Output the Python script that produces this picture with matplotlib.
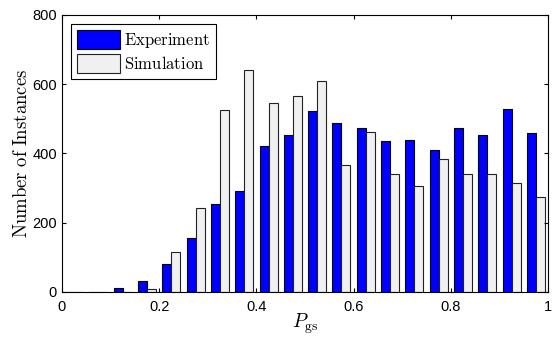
import matplotlib
matplotlib.use("Agg")
import matplotlib.pyplot as plt
import numpy as np

plt.rcParams["mathtext.fontset"] = "cm"
plt.rcParams["font.family"] = ["Liberation Sans", "DejaVu Sans"]

# histogram bins of P_gs (width 0.05)
bin_centres = np.arange(0.025, 1.0, 0.05)
experiment = [0, 0, 11, 32, 80, 155, 253, 292, 422, 454,
              522, 489, 474, 435, 438, 410, 473, 454, 529, 458]
simulation = [0, 0, 1, 9, 115, 243, 526, 640, 545, 565,
              608, 367, 463, 340, 307, 384, 341, 340, 315, 275]
x_ticks = [0, 0.2, 0.4, 0.6, 0.8, 1]
x_tick_labels = ["0", "0.2", "0.4", "0.6", "0.8", "1"]
y_ticks = [0, 200, 400, 600, 800]

fig = plt.figure(figsize=(5.52, 3.39), dpi=100)
ax = fig.add_axes([0.112, 0.139, 0.881, 0.817])

bar_w = 0.0185
ax.bar(bin_centres - bar_w / 2, experiment, width=bar_w, color="#0000ff",
       edgecolor="black", linewidth=0.8, label=r"$\mathrm{Experiment}$")
ax.bar(bin_centres + bar_w / 2, simulation, width=bar_w, color="#f0f0f0",
       edgecolor="#222222", linewidth=0.8, label=r"$\mathrm{Simulation}$")

ax.set_xlim(0, 1)
ax.set_ylim(0, 800)
ax.set_xticks(x_ticks)
ax.set_xticklabels(x_tick_labels)
ax.set_yticks(y_ticks)
ax.tick_params(direction="in", top=True, right=True, labelsize=10.5, length=3)
ax.tick_params(axis="x", pad=6)
for s in ax.spines.values():
    s.set_linewidth(0.8)

ax.set_xlabel(r"$P_{\rm gs}$", fontsize=14, labelpad=-2)
ax.set_ylabel(r"$\mathrm{Number\ of\ Instances}$", fontsize=13.5, labelpad=1)

leg = ax.legend(loc="upper left", fontsize=12, fancybox=False, framealpha=1,
                edgecolor="black", handlelength=2.6, handleheight=1.4,
                borderaxespad=0.55, handletextpad=0.25, labelspacing=0.25,
                borderpad=0.35)
leg.get_frame().set_linewidth(0.8)

fig.savefig("out.png", dpi=100)
